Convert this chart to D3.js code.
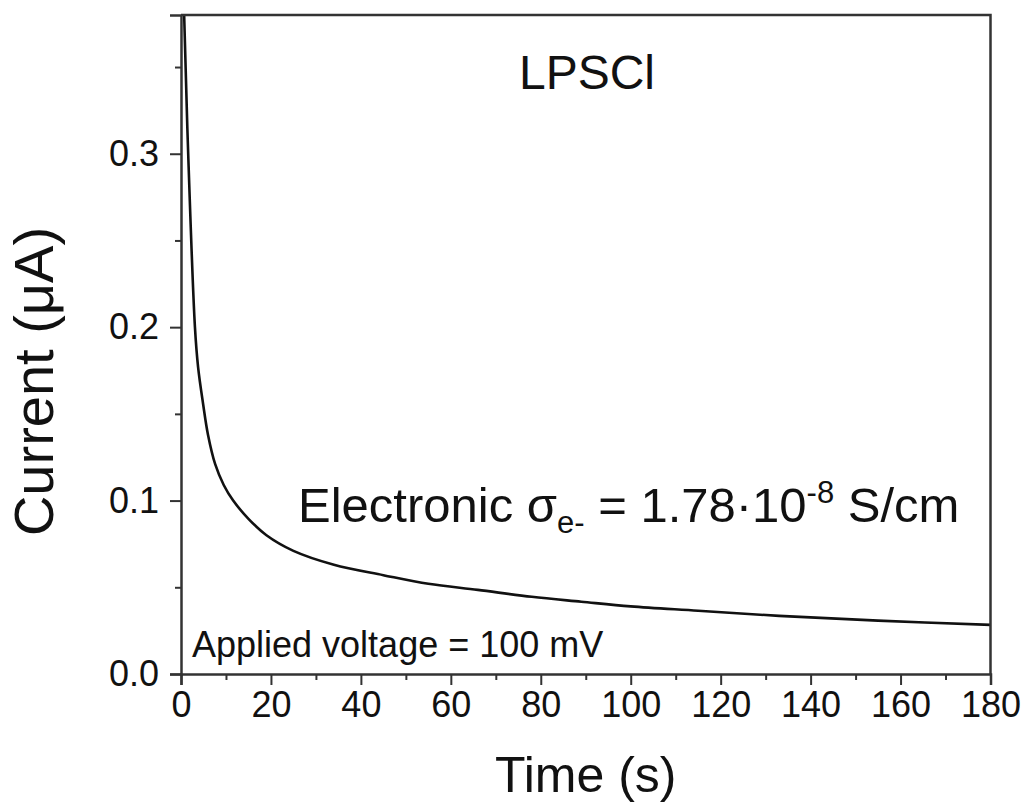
<!DOCTYPE html>
<html>
<head>
<meta charset="utf-8">
<script src="https://cdn.jsdelivr.net/npm/d3@7"></script>
<style>
  html, body { margin: 0; padding: 0; background: #fff; }
  svg { display: block; font-family: "Liberation Sans", Arial, sans-serif; }
</style>
</head>
<body>
<svg id="chart" width="1024" height="803"></svg>
<script>
// Chronoamperometry trace: current decay under a constant bias
const timeS = [0.45, 0.7, 1.6, 3.1, 3.8, 4.9, 6.0, 7.6, 9.5, 11.6, 15, 19, 25, 34, 45, 55, 66, 78, 89, 100, 115, 133, 155, 180];
const currentUA = [0.42, 0.38, 0.30, 0.20, 0.177, 0.156, 0.138, 0.121, 0.109, 0.100, 0.0895, 0.080, 0.071, 0.063, 0.057, 0.052, 0.0485, 0.0445, 0.0417, 0.039, 0.0365, 0.0335, 0.0308, 0.0283];

const xTicks = [0, 20, 40, 60, 80, 100, 120, 140, 160, 180];
const xMinorTicks = [10, 30, 50, 70, 90, 110, 130, 150, 170];
const yTicks = [0.0, 0.1, 0.2, 0.3];
const yMinorTicks = [0.05, 0.15, 0.25, 0.35];

const xDomain = [0, 180];
const yDomain = [0, 0.38];

const svg = d3.select("#chart");
const m = { left: 181, right: 990.5, top: 15, bottom: 674 };

const x = d3.scaleLinear().domain(xDomain).range([m.left, m.right]);
const y = d3.scaleLinear().domain(yDomain).range([m.bottom, m.top]);

svg.append("defs").append("clipPath").attr("id", "plotClip")
  .append("rect")
  .attr("x", m.left).attr("y", m.top)
  .attr("width", m.right - m.left).attr("height", m.bottom - m.top);

// curve (centripetal Catmull-Rom keeps the sharp knee smooth)
const pts = timeS.map((t, i) => [t, currentUA[i]]);
svg.append("path")
  .datum(pts)
  .attr("clip-path", "url(#plotClip)")
  .attr("fill", "none")
  .attr("stroke", "#111")
  .attr("stroke-width", 2.6)
  .attr("stroke-linejoin", "round")
  .attr("d", d3.line().x(d => x(d[0])).y(d => y(d[1])).curve(d3.curveCatmullRom.alpha(0.5)));

const frameColor = "#333";

// bottom axis
svg.append("g").attr("transform", `translate(0,${m.bottom})`)
  .call(d3.axisBottom(x).tickValues(xTicks).tickFormat(d3.format("d")).tickSize(11).tickPadding(6));
svg.append("g").attr("transform", `translate(0,${m.bottom})`)
  .call(d3.axisBottom(x).tickValues(xMinorTicks).tickFormat("").tickSize(6))
  .call(g => g.select(".domain").remove());

// left axis
svg.append("g").attr("transform", `translate(${m.left},0)`)
  .call(d3.axisLeft(y).tickValues(yTicks).tickFormat(d3.format(".1f")).tickSize(11).tickPadding(11));
svg.append("g").attr("transform", `translate(${m.left},0)`)
  .call(d3.axisLeft(y).tickValues(yMinorTicks).tickFormat("").tickSize(6))
  .call(g => g.select(".domain").remove());

svg.selectAll(".tick line").attr("stroke", frameColor).attr("stroke-width", 2);
svg.selectAll(".domain").attr("stroke", frameColor).attr("stroke-width", 2.5);
svg.selectAll(".tick text")
  .attr("font-family", "'Liberation Sans', Arial, sans-serif")
  .attr("font-size", 36).attr("fill", "#111");

// top and right frame lines
svg.append("path")
  .attr("d", `M${m.left},${m.top}H${m.right}V${m.bottom}`)
  .attr("fill", "none").attr("stroke", frameColor).attr("stroke-width", 2.5);

// axis titles
svg.append("text")
  .attr("x", (m.left + m.right) / 2).attr("y", 792)
  .attr("text-anchor", "middle").attr("font-size", 50).attr("fill", "#111")
  .text("Time (s)");

svg.append("text")
  .attr("transform", `translate(53,${(m.top + m.bottom) / 2 + 37}) rotate(-90)`)
  .attr("text-anchor", "middle").attr("font-size", 56).attr("fill", "#111")
  .text("Current (\u03BCA)");

// annotations
svg.append("text")
  .attr("x", 587).attr("y", 89)
  .attr("text-anchor", "middle").attr("font-size", 48).attr("fill", "#111")
  .text("LPSCl");

const cond = svg.append("text")
  .attr("x", 298).attr("y", 522)
  .attr("font-size", 49).attr("fill", "#111");
cond.append("tspan").text("Electronic \u03C3");
cond.append("tspan").attr("font-size", 31).attr("dy", 11).text("e-");
cond.append("tspan").attr("dy", -11).text(" = 1.78\u00B710");
cond.append("tspan").attr("font-size", 31).attr("dy", -19).text("-8");
cond.append("tspan").attr("dy", 19).text(" S/cm");

svg.append("text")
  .attr("x", 192).attr("y", 657)
  .attr("font-size", 36).attr("fill", "#111")
  .text("Applied voltage = 100 mV");
</script>
</body>
</html>
